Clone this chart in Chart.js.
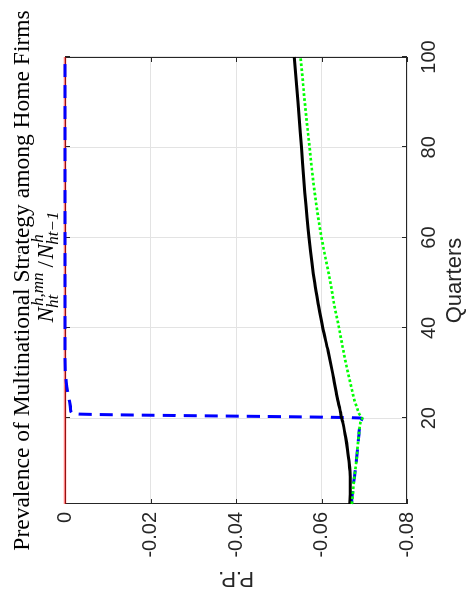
<!DOCTYPE html>
<html><head><meta charset="utf-8">
<script src="https://cdn.jsdelivr.net/npm/chart.js@4.4.1/dist/chart.umd.min.js"></script>
<style>
html,body{margin:0;padding:0;background:#fff;overflow:hidden;width:470px;height:593px;}
#wrap{position:absolute;left:0;top:0;width:593px;height:470px;transform-origin:0 0;transform:translate(0px,593px) rotate(-90deg);background:#fff;}
canvas{display:block;}
</style></head><body>
<div id="wrap"><canvas id="c" width="593" height="470"></canvas></div>
<script>
// ---- data ----
const quarters = [1, 4, 7, 10, 13, 16, 19, 20, 21, 22, 24, 26, 28, 30, 35, 40, 45, 50, 60, 70, 80, 90, 100];
const blackSeries = [-0.0666, -0.0667, -0.0667, -0.0665, -0.0661, -0.0656, -0.0650, -0.0647, -0.0645, -0.0643, -0.0638, -0.0634, -0.0630, -0.0626, -0.0615, -0.0603, -0.0593, -0.0584, -0.0571, -0.0561, -0.0553, -0.0545, -0.0536];
const greenSeries = [-0.0671, -0.0674, -0.0677, -0.0681, -0.0684, -0.0687, -0.0691, -0.0695, -0.0688, -0.0684, -0.0677, -0.0672, -0.0667, -0.0662, -0.0651, -0.0641, -0.0630, -0.0621, -0.0600, -0.0584, -0.0572, -0.0561, -0.0551];
const blueSeries  = [-0.0670, -0.0673, -0.0677, -0.0681, -0.0684, -0.0687, -0.0691, -0.0695, -0.0017, -0.0013, -0.0010, -0.0006, -0.0003, -0.0001, 0, 0, 0, 0, 0, 0, 0, 0, 0];
const redSeries   = [0, 0, 0, 0, 0, 0, 0, 0, 0, 0, 0, 0, 0, 0, 0, 0, 0, 0, 0, 0, 0, 0, 0];
const xTicks = [20, 40, 60, 80, 100];
const yTicks = [0, -0.02, -0.04, -0.06, -0.08];
const yTickLabels = ['0', '-0.02', '-0.04', '-0.06', '-0.08'];
const titleText = 'Prevalence of Multinational Strategy among Home Firms';
const xTitle = 'Quarters';
const yTitle = 'P.P.';

const pts = vals => vals.map((v, i) => ({x: quarters[i], y: v}));

const frame = {
  id: 'frame',
  beforeDatasetsDraw(chart) {
    const {ctx, chartArea: a, scales: {x, y}} = chart;
    ctx.save();
    ctx.strokeStyle = '#262626';
    ctx.lineWidth = 1;
    ctx.strokeRect(Math.round(a.left) + 0.5, Math.round(a.top) + 0.5, Math.round(a.right - a.left) - 1, Math.round(a.bottom - a.top) - 1);
    ctx.beginPath();
    const L = 5;
    xTicks.forEach(t => {
      const px = Math.round(x.getPixelForValue(t)) + 0.5;
      ctx.moveTo(px, a.bottom); ctx.lineTo(px, a.bottom - L);
      ctx.moveTo(px, a.top); ctx.lineTo(px, a.top + L);
    });
    yTicks.forEach(t => {
      const py = Math.round(y.getPixelForValue(t)) + 0.5;
      ctx.moveTo(a.left, py); ctx.lineTo(a.left + L, py);
      ctx.moveTo(a.right, py); ctx.lineTo(a.right - L, py);
    });
    ctx.stroke();
    ctx.restore();
  }
};

const titles = {
  id: 'titles',
  afterDraw(chart) {
    const {ctx, chartArea: a} = chart;
    const cx = (a.left + a.right) / 2;
    ctx.save();
    ctx.fillStyle = '#000';
    ctx.textBaseline = 'alphabetic';
    ctx.textAlign = 'center';
    ctx.font = '23.5px "Liberation Serif"';
    ctx.fillText(titleText, cx, 29);
    // math subtitle  N_{ht}^{h,mn} / N_{ht-1}^{h}
    const big = 'italic 23px "Liberation Serif"';
    const small = 'italic 17px "Liberation Serif"';
    const up = '23px "Liberation Serif"';
    const base = 53, supB = 43, subB = 58;
    const w = (f, t) => { ctx.font = f; return ctx.measureText(t).width; };
    const items = [
      {t: 'N', f: big},
      {sup: 'h,mn', sub: 'ht'},
      {gap: 6},
      {t: '/', f: up},
      {gap: 2},
      {t: 'N', f: big},
      {sup: 'h', sub: 'ht\u22121'}
    ];
    const widthOf = it => it.gap ? it.gap : it.t ? w(it.f, it.t) : Math.max(w(small, it.sup), w(small, it.sub));
    const total = items.reduce((s, it) => s + widthOf(it), 0);
    let u = cx + 14 - total / 2;
    ctx.textAlign = 'left';
    items.forEach(it => {
      if (it.t) { ctx.font = it.f; ctx.fillText(it.t, u, base); }
      else if (it.sup) {
        ctx.font = small;
        ctx.fillText(it.sup, u + 1, supB);
        ctx.fillText(it.sub, u - 1, subB);
      }
      u += widthOf(it);
    });
    ctx.restore();
  }
};

new Chart(document.getElementById('c'), {
  type: 'line',
  data: {
    datasets: [
      {label: 'green', data: pts(greenSeries), borderColor: '#00ff00', borderWidth: 2.7, borderDash: [2.7, 2.3], order: 0, clip: 4},
      {label: 'black', data: pts(blackSeries), borderColor: '#000000', borderWidth: 3, order: 1, clip: 4},
      {label: 'blue', data: pts(blueSeries), borderColor: '#0000ff', borderWidth: 3, borderDash: [13, 8], order: 2, clip: 4},
      {label: 'red', data: pts(redSeries), borderColor: 'rgba(255,0,0,0.5)', borderWidth: 2.7, order: 3, clip: 4}
    ]
  },
  options: {
    responsive: false,
    animation: false,
    devicePixelRatio: 1,
    layout: {padding: {left: 0, right: 57, top: 65, bottom: 0}},
    plugins: {legend: {display: false}, tooltip: {enabled: false}, title: {display: false}},
    elements: {point: {radius: 0}, line: {cubicInterpolationMode: 'monotone', borderCapStyle: 'butt', fill: false}},
    scales: {
      x: {
        type: 'linear', min: 1, max: 100,
        afterBuildTicks: s => { s.ticks = xTicks.map(v => ({value: v})); },
        afterFit: s => { s.height = 63; s.paddingLeft = 0; s.paddingRight = 0; },
        grid: {color: '#e3e3e3', drawTicks: false, lineWidth: 1},
        border: {display: false},
        ticks: {padding: 10, maxRotation: 0, autoSkip: false, color: '#262626', font: {family: 'Liberation Sans', size: 20}},
        title: {display: true, text: xTitle, color: '#262626', font: {family: 'Liberation Sans', size: 22}, padding: {top: 0, bottom: 2}}
      },
      y: {
        type: 'linear', min: -0.08, max: 0,
        afterBuildTicks: s => { s.ticks = yTicks.map(v => ({value: v})); },
        afterFit: s => { s.width = 89; },
        grid: {color: '#e3e3e3', drawTicks: false, lineWidth: 1},
        border: {display: false},
        ticks: {padding: 8, color: '#262626', font: {family: 'Liberation Sans', size: 20}, callback: v => yTickLabels[yTicks.indexOf(v)]},
        title: {display: true, text: yTitle, color: '#262626', font: {family: 'Liberation Sans', size: 22}, padding: {top: 2, bottom: 0}}
      }
    }
  },
  plugins: [frame, titles]
});
</script>
</body></html>
